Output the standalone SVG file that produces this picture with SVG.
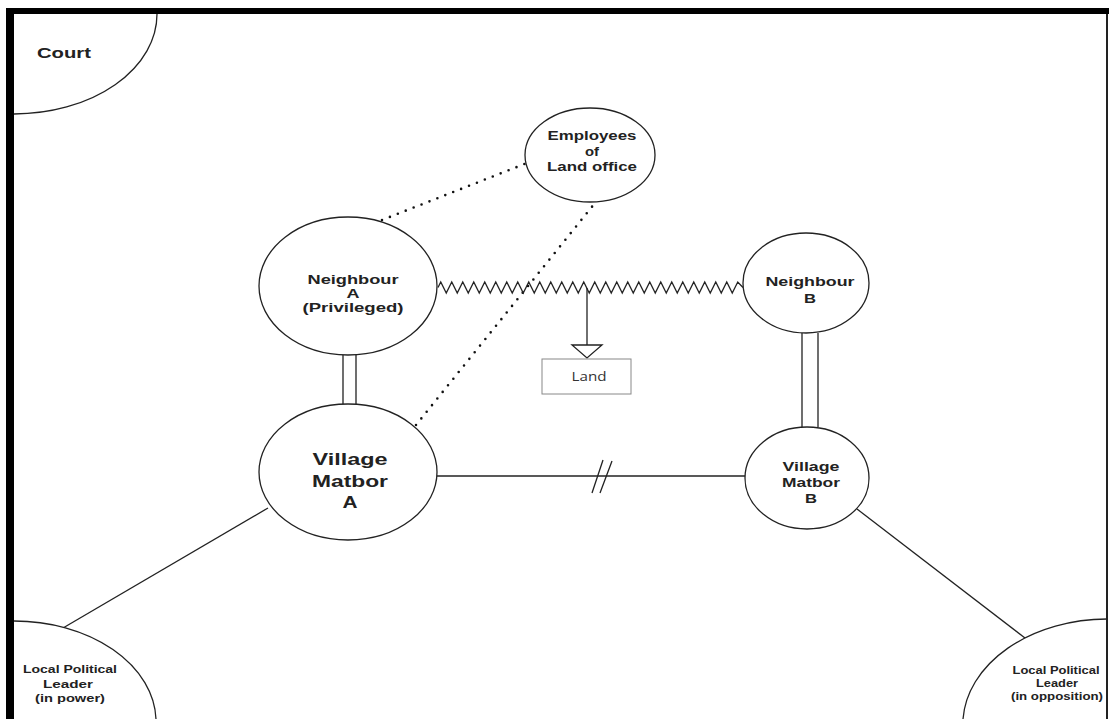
<svg xmlns="http://www.w3.org/2000/svg" width="1109" height="719" viewBox="0 0 1109 719">
<style>
.node{fill:#fff;stroke:#222;stroke-width:1.3}
.t{font-family:"Liberation Sans",Arial,sans-serif;font-weight:bold;fill:#222;text-anchor:middle}
.ln{stroke:#222;stroke-width:1.3;fill:none}
.dot{stroke:#111;stroke-width:2.6;stroke-linecap:round;stroke-dasharray:0 8.5;fill:none}
</style>
<rect x="0" y="0" width="1109" height="719" fill="#fff"/>
<g id="connectors">
<path class="dot" d="M382,220 L527,163"/>
<path class="dot" d="M416,425 L595,203"/>
<path class="ln" d="M438,287.5 l2.75,-5.5 l5.5,11 l5.5,-11 l5.5,11 l5.5,-11 l5.5,11 l5.5,-11 l5.5,11 l5.5,-11 l5.5,11 l5.5,-11 l5.5,11 l5.5,-11 l5.5,11 l5.5,-11 l5.5,11 l5.5,-11 l5.5,11 l5.5,-11 l5.5,11 l5.5,-11 l5.5,11 l5.5,-11 l5.5,11 l5.5,-11 l5.5,11 l5.5,-11 l5.5,11 l5.5,-11 l5.5,11 l5.5,-11 l5.5,11 l5.5,-11 l5.5,11 l5.5,-11 l5.5,11 l5.5,-11 l5.5,11 l5.5,-11 l5.5,11 l5.5,-11 l5.5,11 l5.5,-11 l5.5,11 l5.5,-11 l5.5,11 l5.5,-11 l5.5,11 l5.5,-11 l5.5,11 l5.5,-11 l5.5,11 l5.5,-11 l5.5,11 l5.5,-11 l5.25,5.5"/>
<path class="ln" d="M587,288 L587,345"/>
<path d="M572,345 L602,345 L587,358 Z" fill="#fff" stroke="#222" stroke-width="1.3"/>
<path class="ln" d="M343,355 L343,405 M356,355 L356,405"/>
<path class="ln" d="M802,333 L802,427 M818,333 L818,427" stroke="#333"/>
<path class="ln" d="M437,476 L745,476"/>
<path class="ln" d="M592,493 L603,460 M600,493 L612,461" stroke-width="1.6"/>
<path class="ln" d="M268,508 L63,628"/>
<path class="ln" d="M857,509 L1025,638"/>
</g>
<g id="court">
<path class="node" d="M157,14 A143,100 0 0 1 14,114" fill="none"/>
<text class="t" x="64" y="58" font-size="15" textLength="54" lengthAdjust="spacingAndGlyphs">Court</text>
</g>
<g id="employees">
<ellipse class="node" cx="590" cy="155" rx="65" ry="47"/>
<text class="t" x="592" y="140" font-size="13" textLength="89" lengthAdjust="spacingAndGlyphs">Employees</text>
<text class="t" x="592" y="156" font-size="13" textLength="14" lengthAdjust="spacingAndGlyphs">of</text>
<text class="t" x="592" y="171" font-size="13" textLength="90" lengthAdjust="spacingAndGlyphs">Land office</text>
</g>
<g id="neighbourA">
<ellipse class="node" cx="348" cy="286" rx="89" ry="69"/>
<text class="t" x="353" y="284" font-size="13" textLength="91" lengthAdjust="spacingAndGlyphs">Neighbour</text>
<text class="t" x="353" y="298" font-size="13" textLength="13" lengthAdjust="spacingAndGlyphs">A</text>
<text class="t" x="353" y="312" font-size="13" textLength="101" lengthAdjust="spacingAndGlyphs">(Privileged)</text>
</g>
<g id="land">
<rect x="542" y="359" width="89" height="35" fill="#fff" stroke="#888" stroke-width="1"/>
<text x="589" y="381" font-family="'Open Sans','Liberation Sans',sans-serif" font-size="13" fill="#333" text-anchor="middle" textLength="35" lengthAdjust="spacingAndGlyphs">Land</text>
</g>
<g id="neighbourB">
<ellipse class="node" cx="806" cy="283" rx="63" ry="50"/>
<text class="t" x="810" y="286" font-size="13" textLength="89" lengthAdjust="spacingAndGlyphs">Neighbour</text>
<text class="t" x="810" y="303" font-size="13" textLength="12" lengthAdjust="spacingAndGlyphs">B</text>
</g>
<g id="villageMatborA">
<ellipse class="node" cx="348" cy="472" rx="89" ry="68"/>
<text class="t" x="350" y="465" font-size="17" textLength="75" lengthAdjust="spacingAndGlyphs">Village</text>
<text class="t" x="350" y="487" font-size="17" textLength="76" lengthAdjust="spacingAndGlyphs">Matbor</text>
<text class="t" x="350" y="508" font-size="17" textLength="15" lengthAdjust="spacingAndGlyphs">A</text>
</g>
<g id="villageMatborB">
<ellipse class="node" cx="807" cy="478" rx="62" ry="51"/>
<text class="t" x="811" y="471" font-size="13" textLength="57" lengthAdjust="spacingAndGlyphs">Village</text>
<text class="t" x="811" y="487" font-size="13" textLength="58" lengthAdjust="spacingAndGlyphs">Matbor</text>
<text class="t" x="811" y="503" font-size="13" textLength="12" lengthAdjust="spacingAndGlyphs">B</text>
</g>
<g id="leaderPower">
<path class="node" d="M14,621 A142,101 0 0 1 156,719" fill="none"/>
<text class="t" x="70" y="673" font-size="11" textLength="94" lengthAdjust="spacingAndGlyphs">Local Political</text>
<text class="t" x="68" y="688" font-size="11" textLength="50" lengthAdjust="spacingAndGlyphs">Leader</text>
<text class="t" x="70" y="702" font-size="11" textLength="70" lengthAdjust="spacingAndGlyphs">(in power)</text>
</g>
<g id="leaderOpposition">
<path class="node" d="M1107,619 A145,106 0 0 0 963,719" fill="none"/>
<text class="t" x="1056" y="674" font-size="11" textLength="87" lengthAdjust="spacingAndGlyphs">Local Political</text>
<text class="t" x="1057" y="687" font-size="11" textLength="42" lengthAdjust="spacingAndGlyphs">Leader</text>
<text class="t" x="1057" y="700" font-size="11" textLength="92" lengthAdjust="spacingAndGlyphs">(in opposition)</text>
</g>
<g id="frame">
<rect x="6" y="8" width="1103" height="6" fill="#000"/>
<rect x="6" y="8" width="8" height="711" fill="#000"/>
<line x1="1107" y1="14" x2="1107" y2="719" stroke="#222" stroke-width="2"/>
</g>
</svg>
